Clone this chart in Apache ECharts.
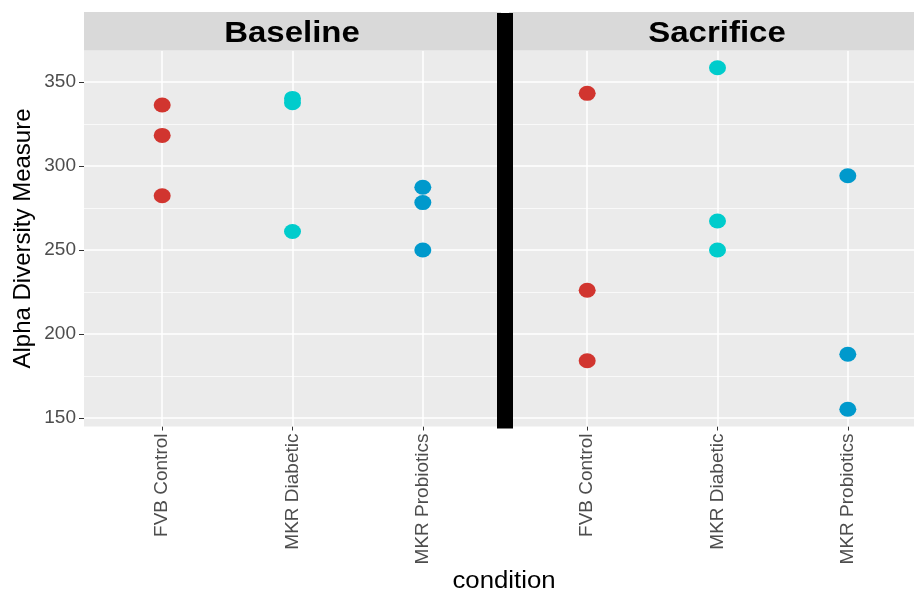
<!DOCTYPE html>
<html>
<head>
<meta charset="utf-8">
<script src="https://cdn.jsdelivr.net/npm/echarts@6/dist/echarts.min.js"></script>
<style>
  html, body { margin: 0; padding: 0; background: #fff; }
  #chart { width: 914px; height: 596px; }
</style>
</head>
<body>
<div id="chart"></div>
<script>
// categories on the x axis of each facet
var categories = ['FVB Control', 'MKR Diabetic', 'MKR Probiotics']
var panels = ['Baseline', 'Sacrifice']
var groupColors = ['#D1352F', '#00CCCC', '#0099CC']

// alpha diversity per condition
var baselineFVB = [336.3, 318.2, 282.3]
var baselineDiabetic = [340.2, 337.6, 261.0]
var baselineProbiotics = [287.3, 278.2, 250.0]
var sacrificeFVB = [343.2, 226.1, 184.1]
var sacrificeDiabetic = [358.4, 267.3, 250.0]
var sacrificeProbiotics = [294.2, 188.0, 155.3]

var yTicks = [150, 200, 250, 300, 350]
var yMinor = [175, 225, 275, 325]
var xTicks = [1, 2, 3]

var panelData = [
  [baselineFVB, baselineDiabetic, baselineProbiotics],
  [sacrificeFVB, sacrificeDiabetic, sacrificeProbiotics]
]

// the right facet runs past the edge of the picture, so it is cut at 914px
var gridLeft = [84, 509]
var gridW = [417, 405]
var xMax = [3.6, 0.4 + 405 / (417 / 3.2)]
var gridTop = 50.5
var gridH = 376

var chart = echarts.init(document.getElementById('chart'), null, { renderer: 'canvas' })

var grids = []
var xAxes = []
var yAxes = []
var series = []

panels.forEach(function (p, i) {
  grids.push({
    left: gridLeft[i], top: gridTop, width: gridW[i], height: gridH,
    show: true, backgroundColor: '#EBEBEB', borderWidth: 0
  })
  xAxes.push({
    gridIndex: i, type: 'value', min: 0.4, max: xMax[i],
    splitLine: { show: false },
    axisLine: { show: false },
    axisTick: { show: true, customValues: xTicks, length: 4, lineStyle: { color: '#333', width: 1 } },
    axisLabel: {
      customValues: xTicks, rotate: 90, margin: 7,
      fontFamily: 'Liberation Sans', fontSize: 19, color: '#4D4D4D',
      formatter: function (v) { return categories[Math.round(v) - 1] }
    }
  })
  yAxes.push({
    gridIndex: i, type: 'value', min: 145, max: 368.7,
    splitLine: { show: false },
    axisLine: { show: false },
    axisTick: { show: i === 0, customValues: yTicks, length: 5, lineStyle: { color: '#333', width: 1 } },
    axisLabel: {
      show: i === 0, customValues: yTicks, margin: 8,
      fontFamily: 'Liberation Sans', fontSize: 19, color: '#4D4D4D'
    },
    name: i === 0 ? 'Alpha Diversity Measure' : '',
    nameLocation: 'middle', nameGap: 49,
    nameTextStyle: { fontFamily: 'Liberation Sans', fontSize: 24, color: '#000' }
  })

  // white panel grid lines, kept under the points
  var lines = []
  yMinor.forEach(function (v) { lines.push({ yAxis: v, lineStyle: { color: '#fff', width: 0.7 } }) })
  yTicks.forEach(function (v) { lines.push({ yAxis: v, lineStyle: { color: '#fff', width: 1.5 } }) })
  xTicks.forEach(function (v) { lines.push({ xAxis: v, lineStyle: { color: '#fff', width: 1.5 } }) })
  series.push({
    type: 'scatter', xAxisIndex: i, yAxisIndex: i, data: [], z: 1, silent: true,
    markLine: {
      silent: true, symbol: 'none', animation: false, z: 1,
      label: { show: false }, lineStyle: { type: 'solid' },
      data: lines
    }
  })

  panelData[i].forEach(function (vals, c) {
    series.push({
      type: 'scatter', xAxisIndex: i, yAxisIndex: i, z: 4,
      symbol: 'circle', symbolSize: [17, 15],
      itemStyle: { color: groupColors[c], opacity: 1 },
      data: vals.map(function (v) { return [c + 1, v] })
    })
  })
})

var stripLabelStyle = { font: 'bold 30px "Liberation Sans"', fill: '#000', textAlign: 'center', textVerticalAlign: 'middle' }

chart.setOption({
  animation: false,
  grid: grids,
  xAxis: xAxes,
  yAxis: yAxes,
  series: series,
  graphic: [
    { type: 'rect', shape: { x: gridLeft[0], y: 12, width: 417, height: 38.5 }, style: { fill: '#D9D9D9' }, z: 5 },
    { type: 'rect', shape: { x: gridLeft[1], y: 12, width: 417, height: 38.5 }, style: { fill: '#D9D9D9' }, z: 5 },
    { type: 'text', x: gridLeft[0] + 208, y: 33.5, scaleX: 1.1, style: Object.assign({ text: panels[0] }, stripLabelStyle), z: 6 },
    { type: 'text', x: gridLeft[1] + 208, y: 33.5, scaleX: 1.1, style: Object.assign({ text: panels[1] }, stripLabelStyle), z: 6 },
    { type: 'rect', shape: { x: 497, y: 13, width: 16, height: 415.5 }, style: { fill: '#000' }, z: 10 },
    { type: 'text', x: 504, y: 582, scaleX: 1.12, style: { text: 'condition', font: '23px "Liberation Sans"', fill: '#000', textAlign: 'center', textVerticalAlign: 'middle' }, z: 6 }
  ]
})
</script>
</body>
</html>
